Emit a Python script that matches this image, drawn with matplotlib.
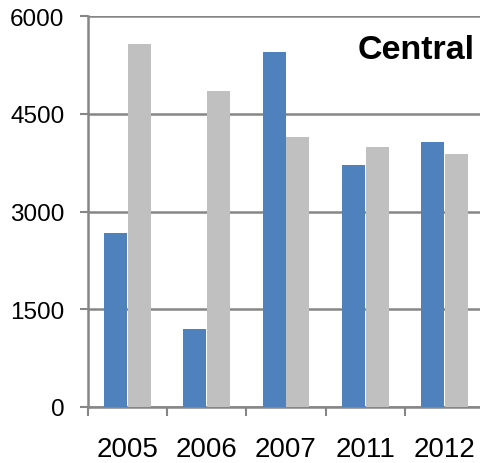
import numpy as np
import matplotlib
matplotlib.use("Agg")
from matplotlib import pyplot as plt

# values
years = ["2005", "2006", "2007", "2011", "2012"]
blue_vals = [2670, 1200, 5450, 3720, 4060]
gray_vals = [5570, 4850, 4140, 3985, 3890]
y_ticks = [0, 1500, 3000, 4500, 6000]

plt.rcParams['font.family'] = ['Liberation Sans', 'DejaVu Sans']
line_grey = '#868686'

fig = plt.figure(figsize=(4.81, 4.64), dpi=100)
ax = fig.add_axes([88 / 481, 1 - 408 / 464, (484 - 88) / 481, (408 - 17) / 464])

x = np.arange(len(years))
ax.bar(x - 0.15, blue_vals, width=0.29, color='#4F81BD', zorder=3)
ax.bar(x + 0.15, gray_vals, width=0.29, color='#C0C0C0', zorder=3)

ax.set_xlim(-0.5, len(years) - 0.5)
ax.set_ylim(0, 6000)
ax.set_yticks(y_ticks)
ax.set_yticklabels([str(v) for v in y_ticks], fontsize=17.5)
ax.set_xticks(x)
ax.set_xticklabels(years, fontsize=20)
ax.set_xticks(np.arange(-0.5, len(years), 1.0), minor=True)

ax.tick_params(axis='x', which='major', length=0, pad=21)
ax.tick_params(axis='x', which='minor', length=6.5, width=1.5, color=line_grey, direction='out')
ax.tick_params(axis='y', length=6, width=1.5, color=line_grey, direction='out', pad=11)

ax.yaxis.grid(True, color=line_grey, linewidth=1.8, zorder=1)
ax.set_axisbelow(True)
for side in ['top', 'right']:
    ax.spines[side].set_visible(False)
for side in ['left', 'bottom']:
    ax.spines[side].set_color(line_grey)
    ax.spines[side].set_linewidth(1.8)

# title sits inside the plot, top right
ax.text((475 - 88) / (484 - 88), 0.915, "Central", transform=ax.transAxes,
        ha='right', va='center', fontsize=24.5, fontweight='bold', zorder=5)

fig.savefig("out.png", dpi=100)
